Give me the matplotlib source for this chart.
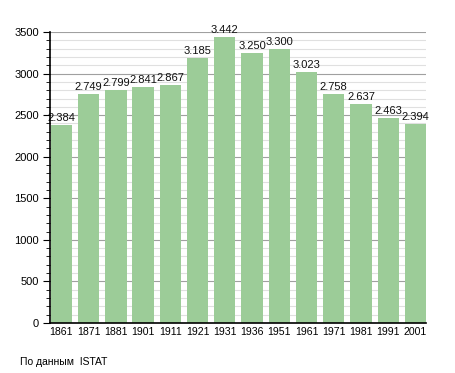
import matplotlib
matplotlib.use("Agg")
import matplotlib.pyplot as plt
from matplotlib.ticker import MultipleLocator

years = ["1861", "1871", "1881", "1901", "1911", "1921", "1931", "1936", "1951", "1961", "1971", "1981", "1991", "2001"]
population = [2384, 2749, 2799, 2841, 2867, 3185, 3442, 3250, 3300, 3023, 2758, 2637, 2463, 2394]
value_labels = ["2.384", "2.749", "2.799", "2.841", "2.867", "3.185", "3.442", "3.250", "3.300", "3.023", "2.758", "2.637", "2.463", "2.394"]

plt.rcParams['font.family'] = ['Liberation Sans', 'DejaVu Sans']

fig = plt.figure(figsize=(4.55, 3.73), dpi=100)
ax = fig.add_axes([50/455, 50/373, 376/455, 291/373])

x = list(range(len(years)))
ax.bar(x, population, width=0.78, color='#9ccc98', zorder=3)
for xi, v, lab in zip(x, population, value_labels):
    ax.text(xi, v + 25, lab, ha='center', va='bottom', fontsize=8, color='#111111', zorder=4)

ax.set_xlim(-0.42, 13.39)
ax.set_ylim(0, 3500)
ax.set_xticks(x)
ax.set_xticklabels(years, fontsize=7.6)
ax.yaxis.set_major_locator(MultipleLocator(500))
ax.yaxis.set_minor_locator(MultipleLocator(100))
ax.tick_params(axis='y', which='major', length=5, labelsize=8, pad=3)
ax.tick_params(axis='y', which='minor', length=3)
ax.tick_params(axis='x', length=0, pad=3)

ax.grid(axis='y', which='major', color='#a0a0a0', linewidth=0.8, zorder=0)
ax.grid(axis='y', which='minor', color='#e0e0e0', linewidth=0.8, zorder=0)

for s in ['top', 'right']:
    ax.spines[s].set_visible(False)
ax.spines['left'].set_linewidth(1.2)
ax.spines['bottom'].set_linewidth(1.2)
ax.spines['left'].set_zorder(5)
ax.spines['bottom'].set_zorder(5)

fig.text(20/455, 1 - 362/373, "По данным  ISTAT", fontsize=7.5, va='center', ha='left')

fig.savefig("out.png", dpi=100)
